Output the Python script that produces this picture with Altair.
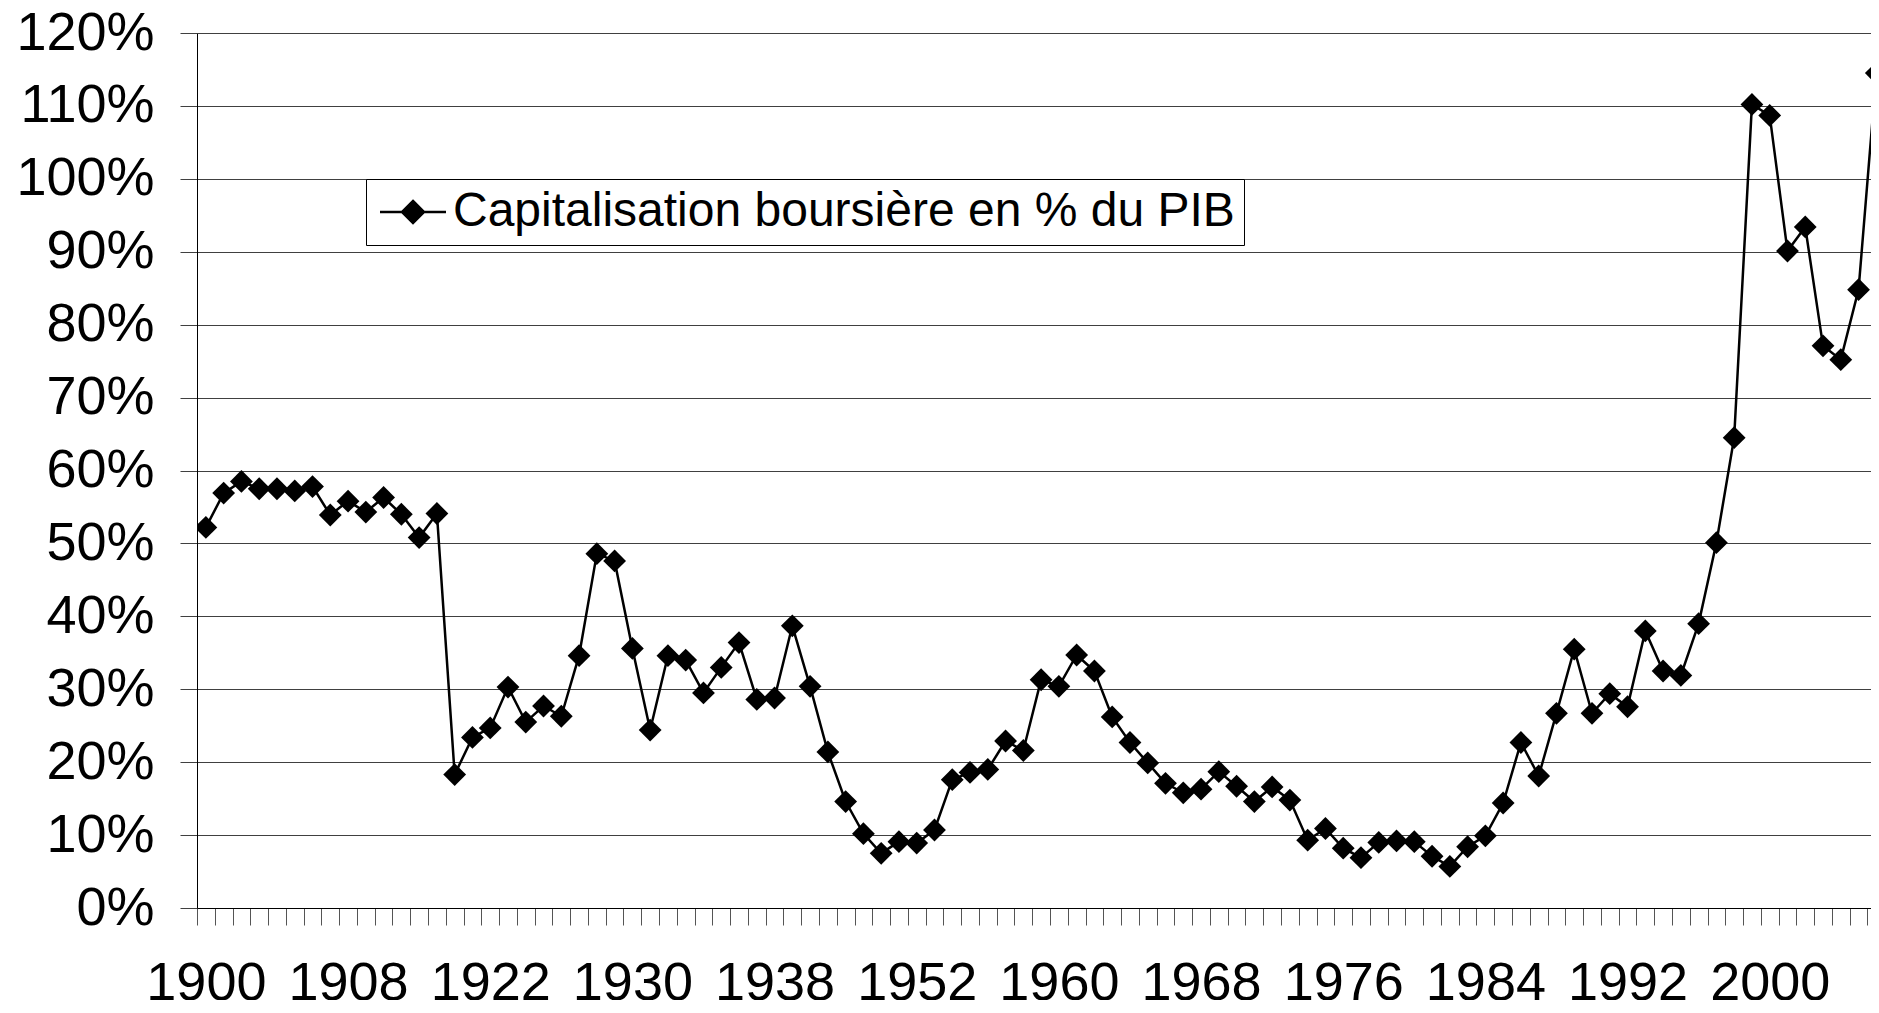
import altair as alt
import pandas as pd
import json

# Category labels (years with gaps, as in the source series)
years = ([str(y) for y in range(1900, 1914)] + [str(y) for y in range(1920, 1939)]
         + [str(y) for y in range(1945, 1952)] + [str(y) for y in range(1952, 2007)])

# Capitalisation boursière en % du PIB
values = [52.2, 56.9, 58.5, 57.5, 57.5, 57.2, 57.8, 53.9, 55.8, 54.3,
          56.3, 54.0, 50.8, 54.1, 18.3, 23.4, 24.7, 30.3, 25.5, 27.7,
          26.3, 34.6, 48.6, 47.6, 35.6, 24.4, 34.6, 34.0, 29.5, 33.0,
          36.4, 28.6, 28.8, 38.7, 30.4, 21.4, 14.6, 10.2, 7.5, 9.1,
          8.9, 10.7, 17.6, 18.6, 19.0, 22.9, 21.6, 31.3, 30.4, 34.7,
          32.5, 26.2, 22.7, 19.9, 17.1, 15.8, 16.3, 18.7, 16.7, 14.6,
          16.6, 14.8, 9.3, 10.9, 8.2, 6.9, 9.0, 9.2, 9.1, 7.1,
          5.7, 8.4, 9.9, 14.4, 22.7, 18.1, 26.7, 35.5, 26.7, 29.4,
          27.6, 38.0, 32.5, 31.9, 39.0, 50.1, 64.5, 110.2, 108.7, 90.1,
          93.4, 77.1, 75.2, 84.8, 114.5]

series_name = "Capitalisation boursière en % du PIB"
y_ticks = [0, 10, 20, 30, 40, 50, 60, 70, 80, 90, 100, 110, 120]
label_every = 8

df = pd.DataFrame({
    "idx": list(range(len(years))),
    "annee": years,
    "valeur": values,
    "serie": [series_name] * len(years),
})

FONT = "Liberation Sans"
PLOT_W = 1674
X_MAX = 93.7
cat_w = PLOT_W / (X_MAX + 0.5)  # px per category
x_bounds = [i - 0.5 for i in range(len(years))]
years_js = json.dumps(years)
label_expr = (f"((datum.value + 0.5) % {label_every} == 0) ? "
              f"{years_js}[datum.value + 0.5] : ''")

x_enc = alt.X(
    "idx:Q",
    scale=alt.Scale(domain=[-0.5, X_MAX], nice=False, zero=False),
    axis=alt.Axis(
        values=x_bounds, labelExpr=label_expr, title=None, grid=False,
        domainColor="black", domainWidth=1,
        ticks=True, tickSize=17, tickColor="#555555", tickWidth=1,
        labelFont=FONT, labelFontSize=54, labelColor="black",
        labelPadding=31, labelOffset=cat_w / 2, labelAngle=0,
        labelOverlap=False, labelBound=False, labelFlush=False,
    ),
)
y_enc = alt.Y(
    "valeur:Q",
    scale=alt.Scale(domain=[0, 120], nice=False, zero=True),
    axis=alt.Axis(
        values=y_ticks, labelExpr="datum.value + '%'", title=None,
        grid=True, gridColor="#404040", gridWidth=1,
        domainColor="black", domainWidth=1,
        ticks=True, tickSize=17, tickColor="#404040", tickWidth=1,
        labelFont=FONT, labelFontSize=54, labelColor="black",
        labelPadding=26,
    ),
)

legend_symbol = "M-3,0L3,0M0,-1L1,0L0,1L-1,0Z"

line = alt.Chart(df).mark_line(color="black", strokeWidth=2.5, clip=True).encode(
    x=x_enc, y=y_enc
)

points = alt.Chart(df).mark_point(
    shape="diamond", filled=True, size=520, opacity=1, strokeWidth=0, clip=True
).encode(
    x=x_enc,
    y=y_enc,
    color=alt.Color(
        "serie:N",
        scale=alt.Scale(range=["black"]),
        legend=alt.Legend(
            title=None, orient="none", legendX=169, legendY=146,
            fillColor="white", strokeColor="black", padding=9,
            symbolType=legend_symbol, symbolSize=484,
            symbolFillColor="black", symbolStrokeColor="black",
            symbolStrokeWidth=2.5, symbolOpacity=1,
            symbolOffset=14, labelOffset=16,
            labelFont=FONT, labelFontSize=48, labelColor="black",
            labelLimit=3000,
        ),
    ),
)

chart = alt.layer(line, points).properties(
    width=PLOT_W,
    height=875,
    autosize=alt.AutoSizeParams(type="none"),
    padding={"left": 189, "top": 25, "right": 0, "bottom": 92},
).configure_view(stroke=None).configure(background="white")

chart.save("out.html", embed_options={"renderer": "svg", "actions": False})
